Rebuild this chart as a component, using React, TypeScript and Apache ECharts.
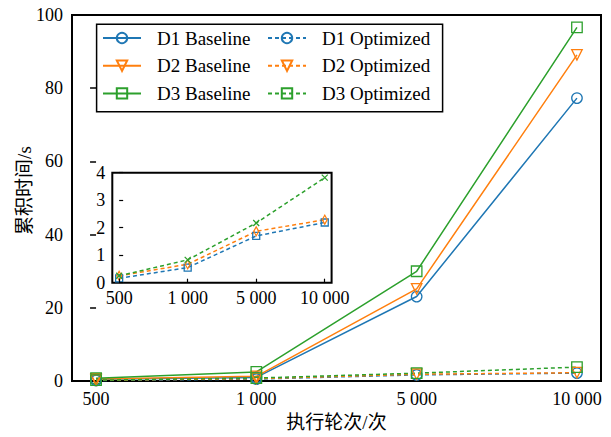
import React, { useEffect, useRef } from "react";
import * as echarts from "echarts";

const categories = ["500", "1 000", "5 000", "10 000"];
const d1Baseline = [0.5, 1.0, 23.1, 77.3];
const d2Baseline = [0.6, 1.3, 25.2, 89.1];
const d3Baseline = [0.8, 2.5, 30.0, 96.6];
const d1Optimized = [0.16, 0.55, 1.7, 2.19];
const d2Optimized = [0.25, 0.67, 1.87, 2.29];
const d3Optimized = [0.25, 0.83, 2.17, 3.82];

const BLUE = "#1f77b4";
const ORANGE = "#ff7f0e";
const GREEN = "#2ca02c";
const FONT = "Liberation Serif, Noto Sans CJK SC, serif";
const X_SYMBOL = "path://M0,0L10,10M10,0L0,10";

const toPairs = (arr: number[]) => arr.map((v, i) => [i, v]);

function mainSeries(name: string, data: number[], color: string, symbol: string, dashed: boolean, rotate = 0) {
  return {
    name,
    type: "line",
    xAxisIndex: 0,
    yAxisIndex: 0,
    data: toPairs(data),
    symbol,
    symbolSize: 10.5,
    symbolRotate: rotate,
    showSymbol: true,
    lineStyle: { color, width: 1.5, type: dashed ? [4, 3] : "solid" },
    itemStyle: { color: "transparent", borderColor: color, borderWidth: 1.3 },
    emphasis: { disabled: true },
    z: 3,
  };
}

function insetSeries(name: string, data: number[], color: string, symbol: string, size: number | number[]) {
  return {
    name,
    type: "line",
    xAxisIndex: 1,
    yAxisIndex: 1,
    data: toPairs(data),
    symbol,
    symbolSize: size,
    showSymbol: true,
    lineStyle: { color, width: 1.5, type: [4, 3] },
    itemStyle: { color: "transparent", borderColor: color, borderWidth: 1.3 },
    emphasis: { disabled: true },
    z: 5,
  };
}

export default function App() {
  const ref = useRef<HTMLDivElement>(null);
  useEffect(() => {
    if (!ref.current) return;
    const chart = echarts.init(ref.current, undefined, { renderer: "svg" });
    const labelStyle = { color: "#000", fontSize: 18, fontFamily: FONT };
    const legendCommon = {
      orient: "vertical",
      top: 28.5,
      itemWidth: 38,
      itemHeight: 13,
      itemGap: 8.7,
      padding: 0,
      textStyle: { color: "#000", fontSize: 19, fontFamily: FONT, padding: [0, 0, 0, 11] },
      selectedMode: false,
    };
    chart.setOption({
      animation: false,
      backgroundColor: "#fff",
      textStyle: { fontFamily: FONT },
      grid: [
        { left: 72, top: 15, width: 529, height: 367.5, show: true, borderColor: "#000", borderWidth: 2, backgroundColor: "transparent" },
        { left: 112.3, top: 172.7, width: 219.3, height: 110, show: true, borderColor: "#000", borderWidth: 2, backgroundColor: "#fff", z: 4 },
      ],
      xAxis: [
        {
          type: "value",
          gridIndex: 0,
          min: -0.15,
          max: 3.15,
          axisLine: { show: false },
          axisTick: { show: false },
          splitLine: { show: false },
          axisLabel: { ...labelStyle, margin: 9, customValues: [0, 1, 2, 3], formatter: (v: number) => categories[Math.round(v)] ?? "" },
          name: "执行轮次/次",
          nameLocation: "middle",
          nameGap: 31,
          nameTextStyle: { color: "#000", fontSize: 19, fontFamily: FONT },
        },
        {
          type: "value",
          gridIndex: 1,
          min: -0.1,
          max: 3.1,
          axisLine: { show: false },
          axisTick: { show: true, inside: true, length: 4, customValues: [0, 1, 2, 3], lineStyle: { color: "#000", width: 1.2 } },
          splitLine: { show: false },
          axisLabel: { ...labelStyle, margin: 6, customValues: [0, 1, 2, 3], formatter: (v: number) => categories[Math.round(v)] ?? "" },
          z: 6,
        },
      ],
      yAxis: [
        {
          type: "value",
          gridIndex: 0,
          min: 0,
          max: 100,
          interval: 20,
          axisLine: { show: false },
          axisTick: { show: true, inside: false, length: 6, lineStyle: { color: "#000", width: 1.5 } },
          splitLine: { show: false },
          axisLabel: { ...labelStyle, margin: 9 },
          name: "累积时间/s",
          nameLocation: "middle",
          nameGap: 38,
          nameMoveOverlap: false,
          nameTextStyle: { color: "#000", fontSize: 19, fontFamily: FONT, padding: [0, 0, 0, 15] },
        },
        {
          type: "value",
          gridIndex: 1,
          min: 0,
          max: 4,
          interval: 1,
          axisLine: { show: false },
          axisTick: { show: true, inside: true, length: 4, lineStyle: { color: "#000", width: 1.2 } },
          splitLine: { show: false },
          axisLabel: { ...labelStyle, margin: 7 },
          z: 6,
        },
      ],
      legend: [
        { ...legendCommon, left: 102, data: ["D1 Baseline", "D2 Baseline", "D3 Baseline"] },
        { ...legendCommon, left: 267, data: ["D1 Optimized", "D2 Optimized", "D3 Optimized"] },
      ],
      graphic: [
        {
          type: "rect",
          shape: { x: 96.6, y: 24.3, width: 346, height: 87.4 },
          style: { fill: "none", stroke: "#000", lineWidth: 1.5 },
          z: 10,
        },
      ],
      series: [
        mainSeries("D1 Baseline", d1Baseline, BLUE, "circle", false),
        mainSeries("D2 Baseline", d2Baseline, ORANGE, "triangle", false, 180),
        mainSeries("D3 Baseline", d3Baseline, GREEN, "rect", false),
        mainSeries("D1 Optimized", d1Optimized, BLUE, "circle", true),
        mainSeries("D2 Optimized", d2Optimized, ORANGE, "triangle", true, 180),
        mainSeries("D3 Optimized", d3Optimized, GREEN, "rect", true),
        insetSeries("D1 Optimized inset", d1Optimized, BLUE, "rect", 7),
        insetSeries("D2 Optimized inset", d2Optimized, ORANGE, "diamond", [5, 9]),
        insetSeries("D3 Optimized inset", d3Optimized, GREEN, X_SYMBOL, 6),
      ],
    });
    return () => chart.dispose();
  }, []);
  return <div ref={ref} style={{ position: "fixed", left: 0, top: 0, width: 611, height: 437 }} />;
}
